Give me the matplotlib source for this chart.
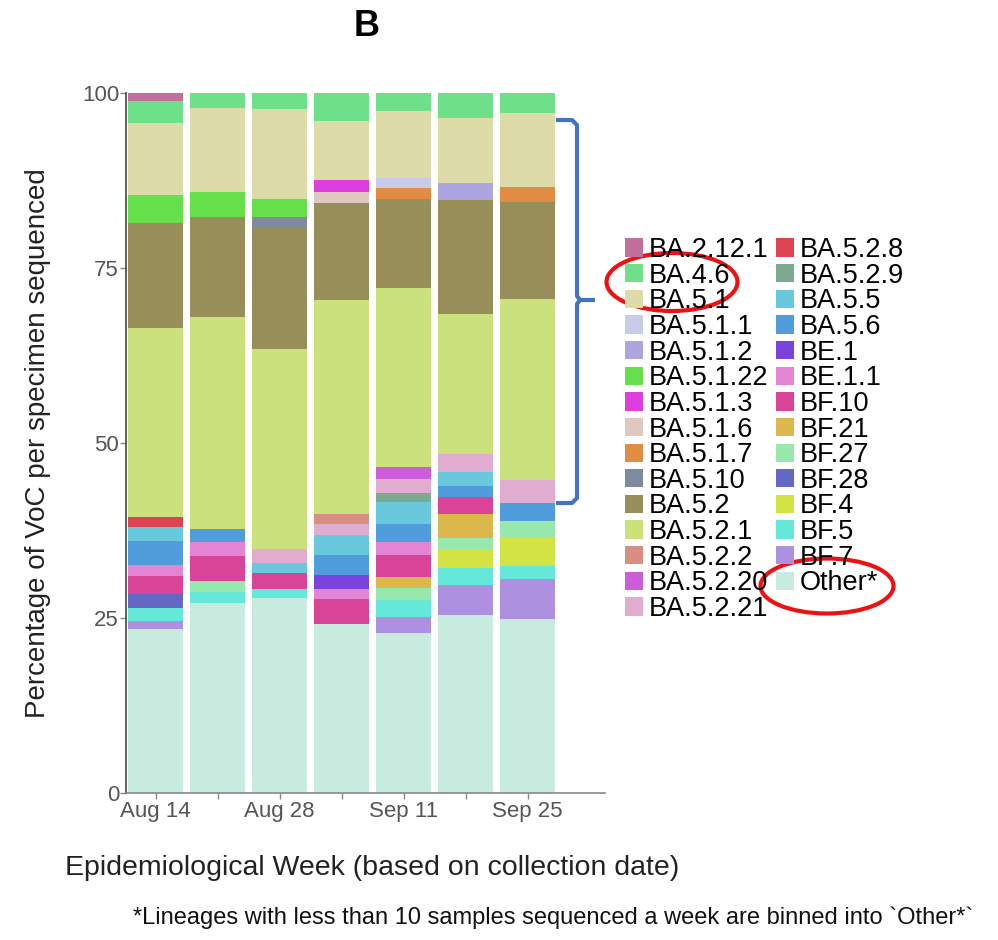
import matplotlib
matplotlib.use("Agg")
import matplotlib.pyplot as plt
import numpy as np
from matplotlib.patches import Ellipse, Patch
from matplotlib.lines import Line2D

plt.rcParams['font.family'] = ['Liberation Sans', 'DejaVu Sans']

weeks = ["Aug 14", "Aug 21", "Aug 28", "Sep 4", "Sep 11", "Sep 18", "Sep 25"]
week_labels = ["Aug 14", "", "Aug 28", "", "Sep 11", "", "Sep 25"]

lineages = ["BA.2.12.1", "BA.4.6", "BA.5.1", "BA.5.1.1", "BA.5.1.2", "BA.5.1.22",
            "BA.5.1.3", "BA.5.1.6", "BA.5.1.7", "BA.5.10", "BA.5.2", "BA.5.2.1",
            "BA.5.2.2", "BA.5.2.20", "BA.5.2.21", "BA.5.2.8", "BA.5.2.9", "BA.5.5",
            "BA.5.6", "BE.1", "BE.1.1", "BF.10", "BF.21", "BF.27", "BF.28", "BF.4",
            "BF.5", "BF.7", "Other*"]

colors = ["#C0709A", "#6EE08A", "#DDDCA8", "#C8CCE8", "#ADA5E0", "#66E04A",
          "#DD3EDD", "#E0C8C0", "#E08C44", "#7E8AA0", "#978E5A", "#CBE27C",
          "#D98E84", "#CC5EDA", "#E0ACCF", "#DC4454", "#7BAA90", "#68C8DC",
          "#519CDA", "#7A44DC", "#E484D4", "#DA4498", "#DCB84C", "#98E8AE",
          "#6268C4", "#D2E444", "#66E8D8", "#AE90E0", "#C8EBE0"]

# percentages per week (Aug 14 ... Sep 25)
BA_2_12_1 = [1.1, 0, 0, 0, 0, 0, 0]
BA_4_6    = [3.2, 2.1, 2.3, 4.0, 2.5, 3.6, 2.8]
BA_5_1    = [10.3, 12.0, 12.8, 8.5, 9.6, 9.2, 10.6]
BA_5_1_1  = [0, 0, 0, 0, 1.5, 0, 0]
BA_5_1_2  = [0, 0, 0, 0, 0, 2.5, 0]
BA_5_1_22 = [4.0, 3.6, 2.6, 0, 0, 0, 0]
BA_5_1_3  = [0, 0, 0, 1.7, 0, 0, 0]
BA_5_1_6  = [0, 0, 0, 1.5, 0, 0, 0]
BA_5_1_7  = [0, 0, 0, 0, 1.6, 0, 2.1]
BA_5_10   = [0, 0, 1.5, 0, 0, 0, 0]
BA_5_2    = [15.0, 14.3, 17.3, 13.9, 12.7, 16.3, 13.9]
BA_5_2_1  = [26.9, 30.3, 28.6, 30.6, 25.5, 20.0, 25.9]
BA_5_2_2  = [0, 0, 0, 1.4, 0, 0, 0]
BA_5_2_20 = [0, 0, 0, 0, 1.7, 0, 0]
BA_5_2_21 = [0, 0, 2.1, 1.5, 2.0, 2.6, 3.2]
BA_5_2_8  = [1.5, 0, 0, 0, 0, 0, 0]
BA_5_2_9  = [0, 0, 0, 0, 1.3, 0, 0]
BA_5_5    = [2.0, 0, 1.3, 2.9, 3.1, 2.0, 0]
BA_5_6    = [3.4, 1.8, 0, 2.9, 2.7, 1.5, 2.6]
BE_1      = [0, 0, 0, 1.9, 0, 0, 0]
BE_1_1    = [1.6, 2.1, 0, 1.5, 1.8, 0, 0]
BF_10     = [2.6, 3.5, 2.3, 3.6, 3.1, 2.4, 0]
BF_21     = [0, 0, 0, 0, 1.6, 3.4, 0]
BF_27     = [0, 1.6, 0, 0, 1.7, 1.6, 2.4]
BF_28     = [2.0, 0, 0, 0, 0, 0, 0]
BF_4      = [0, 0, 0, 0, 0, 2.8, 4.1]
BF_5      = [1.8, 1.5, 1.4, 0, 2.4, 2.4, 1.8]
BF_7      = [1.2, 0, 0, 0, 2.4, 4.3, 5.7]
OTHER     = [23.4, 27.2, 27.8, 24.1, 22.8, 25.4, 24.9]

values = [BA_2_12_1, BA_4_6, BA_5_1, BA_5_1_1, BA_5_1_2, BA_5_1_22, BA_5_1_3,
          BA_5_1_6, BA_5_1_7, BA_5_10, BA_5_2, BA_5_2_1, BA_5_2_2, BA_5_2_20,
          BA_5_2_21, BA_5_2_8, BA_5_2_9, BA_5_5, BA_5_6, BE_1, BE_1_1, BF_10,
          BF_21, BF_27, BF_28, BF_4, BF_5, BF_7, OTHER]

W, H = 998, 940
fig = plt.figure(figsize=(W / 100, H / 100), dpi=100)
ax = fig.add_axes([126 / W, 1 - 793 / H, (605 - 126) / W, (793 - 93) / H])

x = np.arange(len(weeks))
bottom = np.zeros(len(weeks))
for name, col, vals in reversed(list(zip(lineages, colors, values))):
    v = np.array(vals, dtype=float)
    ax.bar(x, v, bottom=bottom, width=0.887, color=col, linewidth=0)
    bottom += v

ax.set_xlim(-0.476, 7.25)
ax.set_ylim(0, 100)
ax.set_yticks([0, 25, 50, 75, 100])
ax.set_xticks(x)
ax.set_xticklabels(week_labels)
for s in ["top", "right"]:
    ax.spines[s].set_visible(False)
ax.spines["left"].set_color("#444444")
ax.spines["bottom"].set_color("#888888")
ax.spines["left"].set_linewidth(1.2)
ax.spines["bottom"].set_linewidth(1.2)
ax.tick_params(axis="both", colors="#888888", length=4, width=1,
               labelsize=16, labelcolor="#555555", pad=1)
ax.tick_params(axis="x", pad=2)

ax.set_ylabel("Percentage of VoC per specimen sequenced", fontsize=20,
              color="#222222", labelpad=22)

fig.text(367 / W, 1 - 26 / H, "B", fontsize=26, fontweight="bold",
         ha="center", va="center")
fig.text(372 / W, 1 - 868 / H, "Epidemiological Week (based on collection date)",
         fontsize=20.5, color="#222222", ha="center", va="center")
fig.text(553 / W, 1 - 918 / H,
         "*Lineages with less than 10 samples sequenced a week are binned into `Other*`",
         fontsize=17, color="#111111", ha="center", va="center")

handles = [Patch(facecolor=c, edgecolor="none") for c in colors]
fig.legend(handles, lineages, loc="upper left",
           bbox_to_anchor=(625 / W, 1 - 237 / H), ncol=2, frameon=False,
           fontsize=19.5, labelspacing=-0.013, handlelength=0.66, handleheight=0.66,
           handletextpad=0.2, columnspacing=0.3, borderpad=0, borderaxespad=0)

# annotations: red ellipses and blue bracket (in inches)
tr = fig.dpi_scale_trans
fig.add_artist(Ellipse((672 / 100, (H - 282) / 100), 1.31, 0.58, transform=tr,
                       fill=False, edgecolor="#EE1111", linewidth=3))
fig.add_artist(Ellipse((827 / 100, (H - 586) / 100), 1.33, 0.55, transform=tr,
                       fill=False, edgecolor="#EE1111", linewidth=3))

bx = [556, 572, 577, 577, 580, 595]
by = [120, 120, 125, 296, 300, 300]
fig.add_artist(Line2D([v / 100 for v in bx], [(H - v) / 100 for v in by],
                      transform=tr, color="#4472C4", linewidth=3,
                      solid_joinstyle="round", solid_capstyle="butt"))
bx2 = [580, 577, 577, 572, 556]
by2 = [300, 304, 498, 503, 503]
fig.add_artist(Line2D([v / 100 for v in bx2], [(H - v) / 100 for v in by2],
                      transform=tr, color="#4472C4", linewidth=3,
                      solid_joinstyle="round", solid_capstyle="butt"))

fig.savefig("out.png", dpi=100)
